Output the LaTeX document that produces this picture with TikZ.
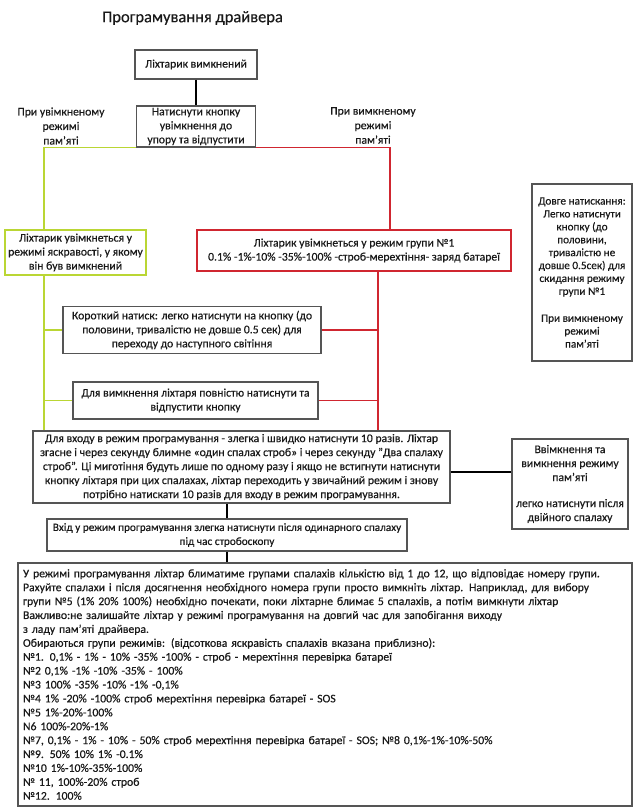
\documentclass[tikz,border=0pt]{standalone}
\usepackage{fontspec}
\setmainfont[FakeBold=0.35]{Carlito}
\definecolor{boxgray}{RGB}{85,85,85}
\definecolor{txt}{RGB}{25,25,25}
\definecolor{lgreen}{RGB}{186,214,52}
\definecolor{lred}{RGB}{208,38,48}
\tikzset{
  box/.style={draw=boxgray, line width=1.1pt, fill=white, align=center, inner sep=0pt,
              text=txt, font=\fontsize{11.7}{14}\selectfont},
  gbox/.style={box, draw=lgreen, line width=1.8pt},
  rbox/.style={box, draw=lred, line width=1.8pt},
  lbl/.style={align=center, inner sep=0pt, text=txt, font=\fontsize{11.7}{14.5}\selectfont},
  blk/.style={draw=black, line width=1.3pt},
  grn/.style={draw=lgreen, line width=1.8pt},
  rd/.style={draw=lred, line width=1.8pt}
}
\begin{document}
\begin{tikzpicture}[x=1pt,y=-1pt]
\useasboundingbox (0,0) rectangle (640,810);
\fill[white] (0,0) rectangle (640,810);

\node[lbl, font=\fontsize{16.5}{19}\selectfont] (title) at (192.5,18) {Програмування драйвера};

\node[box, minimum width=122pt, minimum height=29pt] (off) at (196,64.5) {Ліхтарик вимкнений};
\node[box, minimum width=119pt, minimum height=41pt] (press) at (196,126.5)
  {Натиснути кнопку\\увімкнення до\\упору та відпустити};

\node[lbl] (lblon) at (61,126) {При увімкненому\\режимі\\пам’яті};
\node[lbl] (lbloff) at (373,125.5) {При вимкненому\\режимі\\пам’яті};

\node[gbox, minimum width=141pt, minimum height=45pt] (grnb) at (75.5,252.5)
  {Ліхтарик увімкнеться у\\режимі яскравості, у якому\\він був вимкнений};
\node[rbox, minimum width=314pt, minimum height=41pt] (redb) at (354,250.5)
  {Ліхтарик увімкнеться у режим групи №1\\0.1\% -1\%-10\% -35\%-100\% -строб-мерехтіння- заряд батареї};

\node[box, minimum width=100pt, minimum height=177pt, font=\fontsize{11.2}{12.9}\selectfont] (long) at (582,272.5)
  {Довге натискання:\\Легко натиснути\\кнопку (до\\половини,\\тривалістю не\\довше 0.5сек) для\\скидання режиму\\групи №1\\[14pt]При вимкненому\\режимі\\пам’яті};

\node[box, minimum width=258pt, minimum height=47pt] (short) at (192,330)
  {Короткий натиск: легко натиснути на кнопку (до\\половини, тривалістю не довше 0.5 сек) для\\переходу до наступного світіння};
\node[box, minimum width=245pt, minimum height=37pt] (offfull) at (195.5,400.5)
  {Для вимкнення ліхтаря повністю натиснути та\\відпустити кнопку};

\node[box, minimum width=417pt, minimum height=72pt] (prog) at (241.5,467)
  {Для входу в режим програмування - злегка і швидко натиснути 10 разів. Ліхтар\\згасне і через секунду блимне «один спалах строб» і через секунду "Два спалаху\\строб". Ці миготіння будуть лише по одному разу і якщо не встигнути натиснути\\кнопку ліхтаря при цих спалахах, ліхтар переходить у звичайний режим і знову\\потрібно натискати 10 разів для входу в режим програмування.};

\node[box, minimum width=116pt, minimum height=90pt] (mem) at (570,484)
  {Ввімкнення та\\вимкнення режиму\\пам’яті\\[12pt]легко натиснути після\\двійного спалаху};

\node[box, minimum width=360pt, minimum height=32pt, font=\fontsize{11.25}{14}\selectfont] (enter) at (227,535)
  {Вхід у режим програмування злегка натиснути після одинарного спалаху\\під час стробоскопу};

\node[box, align=left, text width=604pt, inner xsep=5pt, minimum height=243pt,
      font=\fontsize{11.7}{13.9}\selectfont] (big) at (325,684.5)
  {У режимі програмування ліхтар блиматиме групами спалахів кількістю від 1 до 12, що відповідає номеру групи.\\
   Рахуйте спалахи і після досягнення необхідного номера групи просто вимкніть ліхтар. Наприклад, для вибору\\
   групи №5 (1\% 20\% 100\%) необхідно почекати, поки ліхтарне блимає 5 спалахів, а потім вимкнути ліхтар\\
   Важливо:не залишайте ліхтар у режимі програмування на довгий час для запобігання виходу\\
   з ладу пам’яті драйвера.\\
   Обираються групи режимів: (відсоткова яскравість спалахів вказана приблизно):\\
   №1. 0,1\% - 1\% - 10\% -35\% -100\% - строб - мерехтіння перевірка батареї\\
   №2 0,1\% -1\% -10\% -35\% - 100\%\\
   №3 100\% -35\% -10\% -1\% -0,1\%\\
   №4 1\% -20\% -100\% строб мерехтіння перевірка батареї - SOS\\
   №5 1\%-20\%-100\%\\
   N6 100\%-20\%-1\%\\
   №7, 0,1\% - 1\% - 10\% - 50\% строб мерехтіння перевірка батареї - SOS; №8 0,1\%-1\%-10\%-50\%\\
   №9. 50\% 10\% 1\% -0.1\%\\
   №10 1\%-10\%-35\%-100\%\\
   № 11, 100\%-20\% строб\\
   №12. 100\%};

% connectors
\coordinate (gx) at (44,0);
\coordinate (rxa) at (390,0);
\coordinate (rxb) at (378,0);

\draw[blk] (off.south) -- (press.north);

\draw[grn] (press.south west) -| (gx |- grnb.north);
\draw[grn] (gx |- grnb.south) -- (gx |- prog.north);
\draw[grn] (gx |- short.west) -- (short.west);
\draw[grn] (gx |- offfull.west) -- (offfull.west);

\draw[rd] (press.south east) -| (rxa |- redb.north);
\draw[rd] (rxb |- redb.south) -- (rxb |- prog.north);
\draw[rd] (short.east) -- (rxb |- short.east);
\draw[rd] (offfull.east) -- (rxb |- offfull.east);

\coordinate (pe) at ([yshift=-5pt]prog.east);
\draw[blk] (pe) -- (pe -| mem.west);
\draw[blk] (enter.north |- prog.south) -- (enter.north);
\draw[blk] (enter.south) -- (enter.south |- big.north);
\end{tikzpicture}
\end{document}
